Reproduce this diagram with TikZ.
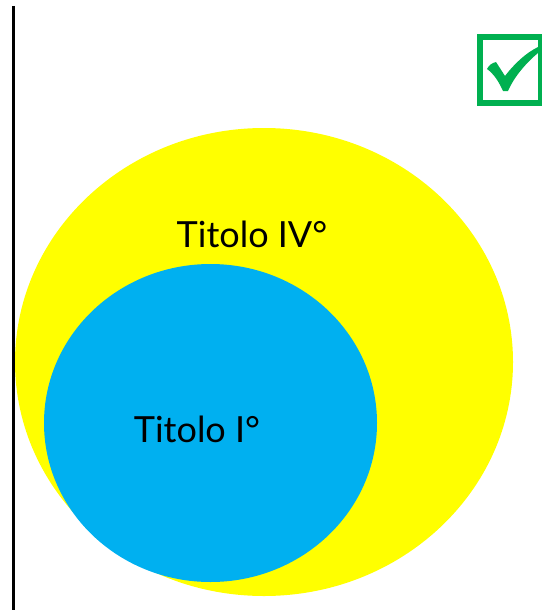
\documentclass[tikz,border=0pt]{standalone}
\usepackage{fontspec}
\setmainfont{Lato}
\usetikzlibrary{shapes.geometric,positioning}
\definecolor{setyellow}{HTML}{FFFF00}
\definecolor{setblue}{HTML}{00B0F0}
\definecolor{okgreen}{HTML}{00B050}
\tikzset{
  every picture/.style = {
    x = 1pt,
    y = -1pt,
  }
  ,
  set/.style = {
    ellipse,
    draw = none,
    inner sep = 0pt
  }
  , % labels of sets
  label-set/.style = {
    font = \fontsize{36}{40}\selectfont,
    inner sep = 0pt,
    anchor = base
  }
  ,
  tickbox/.style = {
    draw = okgreen,
    line width = 6pt,
    fill = white,
    minimum width = 61pt,
    minimum height = 66pt,
    inner sep = 0pt
  }
}
\begin{document}
\begin{tikzpicture}
\useasboundingbox (0,0) rectangle (541,610);
\draw[line width=3pt] (13.5,6) -- (13.5,610);

\node[set, fill=setyellow, minimum width=498pt, minimum height=468pt] at (264,362) (quarto) {};
\node[set, fill=setblue, minimum width=333pt, minimum height=318pt] at (210.5,423) (primo) {};

\node[label-set] at (252,247) (lquarto) {Titolo IV°};
\node[label-set] at (197,442) (lprimo) {Titolo I°};

\node[tickbox] at (510.5,70) (box) {};
\fill[okgreen] (487,69) .. controls (489,65) and (492,63) .. (496,62)
  -- (505,76) .. controls (515,63) and (526,53) .. (538,47)
  -- (538,53) .. controls (526,63) and (514,77) .. (508,91)
  -- (503,91) .. controls (499,82) and (494,74) .. cycle;
\end{tikzpicture}
\end{document}
